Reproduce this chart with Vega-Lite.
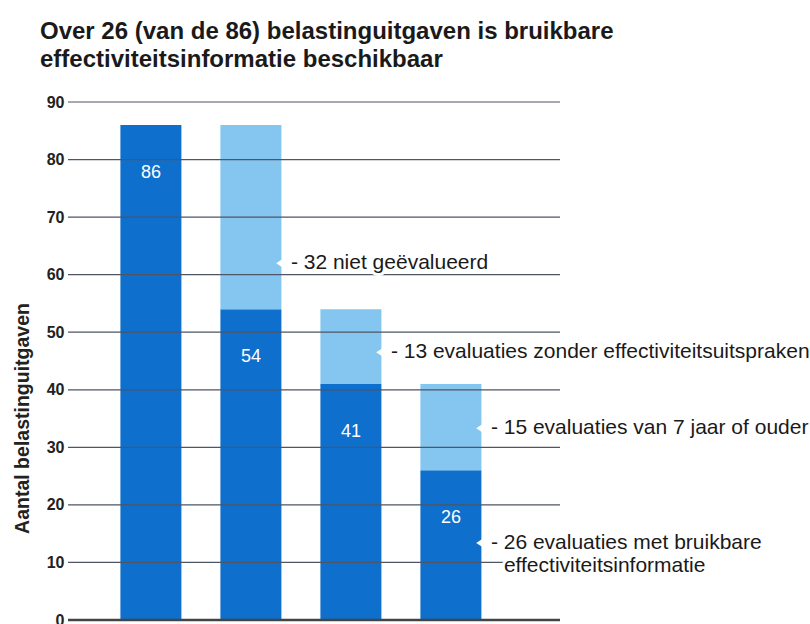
{
  "$schema": "https://vega.github.io/schema/vega-lite/v6.json",
  "width": 492,
  "height": 518,
  "autosize": {"type": "none"},
  "padding": {"left": 68, "top": 102, "right": 250, "bottom": 4},
  "background": "white",
  "config": {"view": {"stroke": null}, "font": "Liberation Sans"},
  "title": {
    "text": ["Over 26 (van de 86) belastinguitgaven is bruikbare", "effectiviteitsinformatie beschikbaar"],
    "anchor": "start",
    "frame": "group",
    "dx": -28,
    "offset": 22,
    "fontSize": 24,
    "fontWeight": "bold",
    "lineHeight": 28,
    "color": "#1a1a1a",
    "font": "Liberation Sans"
  },
  "datasets": {
    "balken": [
      {"groep": "Alle belastinguitgaven", "deel": "basis", "aantal": 86},
      {"groep": "Geëvalueerd", "deel": "basis", "aantal": 54},
      {"groep": "Geëvalueerd", "deel": "rest", "aantal": 32},
      {"groep": "Met effectiviteitsuitspraken", "deel": "basis", "aantal": 41},
      {"groep": "Met effectiviteitsuitspraken", "deel": "rest", "aantal": 13},
      {"groep": "Recent", "deel": "basis", "aantal": 26},
      {"groep": "Recent", "deel": "rest", "aantal": 15}
    ],
    "lijnen": [
      {"waarde": 10}, {"waarde": 20}, {"waarde": 30}, {"waarde": 40}, {"waarde": 50},
      {"waarde": 60}, {"waarde": 70}, {"waarde": 80}, {"waarde": 90}
    ],
    "toelichting": [
      {"groep": "Geëvalueerd", "regel": 1, "positie": 62.0, "tekst": "- 32 niet geëvalueerd"},
      {"groep": "Met effectiviteitsuitspraken", "regel": 1, "positie": 46.5, "tekst": "- 13 evaluaties zonder effectiviteitsuitspraken"},
      {"groep": "Recent", "regel": 1, "positie": 33.3, "tekst": "- 15 evaluaties van 7 jaar of ouder"},
      {"groep": "Recent", "regel": 1, "positie": 13.4, "tekst": "- 26 evaluaties met bruikbare"},
      {"groep": "Recent", "regel": 2, "positie": 9.3, "tekst": "effectiviteitsinformatie"}
    ]
  },
  "layer": [
    {
      "data": {"name": "balken"},
      "mark": {"type": "bar"},
      "encoding": {
        "x": {"field": "groep", "type": "nominal", "sort": null, "axis": null,
              "scale": {"paddingInner": 0.39, "paddingOuter": 0.655, "align": 0.4}},
        "y": {"field": "aantal", "type": "quantitative", "stack": "zero",
              "title": "Aantal belastinguitgaven",
              "scale": {"domain": [0, 90], "nice": false},
              "axis": {"values": [0, 10, 20, 30, 40, 50, 60, 70, 80, 90], "grid": false, "domain": false, "ticks": false,
                       "labelPadding": 4, "labelFontSize": 16, "labelFontWeight": "bold", "labelColor": "#222",
                       "labelFont": "Liberation Sans",
                       "titleFontSize": 19.5, "titleFontWeight": "bold", "titleColor": "#222", "titleFont": "Liberation Sans",
                       "titleAngle": -90, "titleX": -46, "titleY": 316, "titleAlign": "center", "titleBaseline": "middle"}},
        "color": {"field": "deel", "type": "nominal", "legend": null,
                  "scale": {"domain": ["basis", "rest"], "range": ["#0f6fcc", "#84c6ef"]}},
        "order": {"field": "deel", "sort": "ascending"}
      }
    },
    {
      "data": {"name": "toelichting"},
      "transform": [{"filter": "datum.regel == 1"}],
      "mark": {"type": "point", "shape": "M 1.1 -0.18 L 0.83 0 L 1.1 0.18 Z", "filled": true, "fill": "white", "opacity": 1, "strokeWidth": 0, "size": 3721},
      "encoding": {
        "x": {"field": "groep", "type": "nominal", "sort": null, "axis": null},
        "y": {"field": "positie", "type": "quantitative", "title": "Aantal belastinguitgaven"}
      }
    },
    {
      "data": {"name": "balken"},
      "transform": [{"filter": "datum.deel == 'basis'"}],
      "mark": {"type": "text", "color": "white", "fontSize": 18, "dy": 48, "baseline": "middle", "align": "center", "font": "Liberation Sans"},
      "encoding": {
        "x": {"field": "groep", "type": "nominal", "sort": null, "axis": null},
        "y": {"field": "aantal", "type": "quantitative", "title": "Aantal belastinguitgaven"},
        "text": {"field": "aantal", "type": "quantitative"}
      }
    },
    {
      "data": {"name": "lijnen"},
      "mark": {"type": "rule", "color": "#4f5563", "strokeWidth": 1.2},
      "encoding": {
        "y": {"field": "waarde", "type": "quantitative", "title": "Aantal belastinguitgaven"}
      }
    },
    {
      "data": {"values": [{"waarde": 0}]},
      "mark": {"type": "rule", "color": "#444444", "strokeWidth": 2.5},
      "encoding": {
        "y": {"field": "waarde", "type": "quantitative", "title": "Aantal belastinguitgaven"}
      }
    },
    {
      "data": {"name": "toelichting"},
      "transform": [{"filter": "datum.regel == 1"}],
      "mark": {"type": "text", "align": "left", "baseline": "middle", "dx": 40, "fontSize": 21, "fill": "white", "stroke": "white", "strokeWidth": 6, "strokeJoin": "round", "font": "Liberation Sans"},
      "encoding": {
        "x": {"field": "groep", "type": "nominal", "sort": null, "axis": null},
        "y": {"field": "positie", "type": "quantitative", "title": "Aantal belastinguitgaven"},
        "text": {"field": "tekst"}
      }
    },
    {
      "data": {"name": "toelichting"},
      "transform": [{"filter": "datum.regel == 2"}],
      "mark": {"type": "text", "align": "left", "baseline": "middle", "dx": 53, "fontSize": 21, "fill": "white", "stroke": "white", "strokeWidth": 6, "strokeJoin": "round", "font": "Liberation Sans"},
      "encoding": {
        "x": {"field": "groep", "type": "nominal", "sort": null, "axis": null},
        "y": {"field": "positie", "type": "quantitative", "title": "Aantal belastinguitgaven"},
        "text": {"field": "tekst"}
      }
    },
    {
      "data": {"name": "toelichting"},
      "transform": [{"filter": "datum.regel == 1"}],
      "mark": {"type": "text", "align": "left", "baseline": "middle", "dx": 40, "fontSize": 21, "color": "#1a1a1a", "font": "Liberation Sans"},
      "encoding": {
        "x": {"field": "groep", "type": "nominal", "sort": null, "axis": null},
        "y": {"field": "positie", "type": "quantitative", "title": "Aantal belastinguitgaven"},
        "text": {"field": "tekst"}
      }
    },
    {
      "data": {"name": "toelichting"},
      "transform": [{"filter": "datum.regel == 2"}],
      "mark": {"type": "text", "align": "left", "baseline": "middle", "dx": 53, "fontSize": 21, "color": "#1a1a1a", "font": "Liberation Sans"},
      "encoding": {
        "x": {"field": "groep", "type": "nominal", "sort": null, "axis": null},
        "y": {"field": "positie", "type": "quantitative", "title": "Aantal belastinguitgaven"},
        "text": {"field": "tekst"}
      }
    }
  ]
}
